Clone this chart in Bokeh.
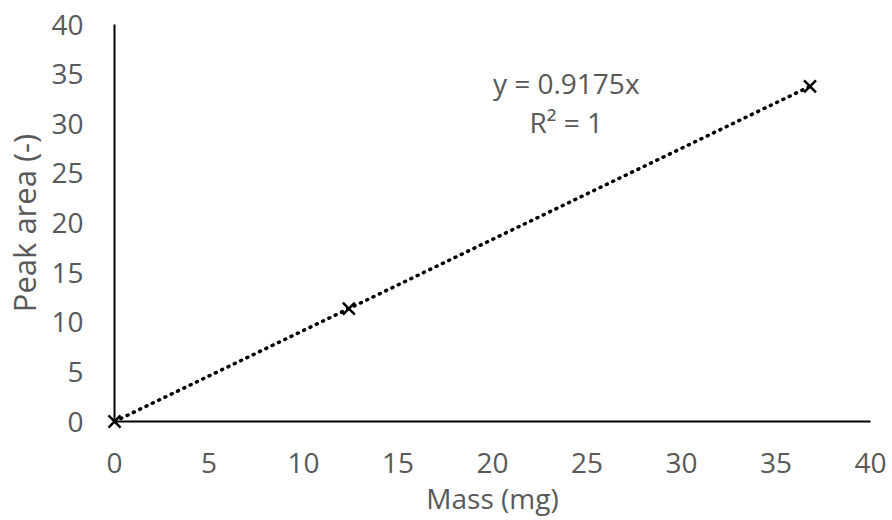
from bokeh.plotting import figure
from bokeh.models import Range1d, FixedTicker, Title
from bokeh.core.properties import value
from bokeh.embed import file_html
from bokeh.resources import INLINE

mass = [0.0, 12.4, 36.8]
peak_area = [0.0, 11.38, 33.76]
slope = 0.9175
ticks = [0, 5, 10, 15, 20, 25, 30, 35, 40]
eq_lines = ["y = 0.9175x", "R² = 1"]
eq_x = [23.9, 23.9]
eq_y = [34.1, 30.2]
x_title = "Mass (mg)"
y_title = "Peak area (-)"

FONT = "Open Sans"
GRAY = "#595959"

p = figure(width=892, height=520, output_backend="svg", toolbar_location=None,
           x_range=Range1d(0, 40), y_range=Range1d(0, 40),
           min_border_left=114, min_border_right=22, min_border_top=24, min_border_bottom=99)
p.outline_line_color = None
p.xgrid.visible = False
p.ygrid.visible = False

for ax in (p.xaxis[0], p.yaxis[0]):
    ax.ticker = FixedTicker(ticks=ticks)
    ax.axis_line_color = "black"
    ax.axis_line_width = 2
    ax.major_tick_line_color = None
    ax.minor_tick_line_color = None
    ax.major_tick_out = 0
    ax.major_tick_in = 0
    ax.minor_tick_out = 0
    ax.minor_tick_in = 0
    ax.major_label_text_font = FONT
    ax.major_label_text_font_size = "28px"
    ax.major_label_text_color = GRAY
    ax.axis_label_text_font = FONT
    ax.axis_label_text_color = GRAY
    ax.axis_label_text_font_style = "normal"

p.xaxis.axis_label = x_title
p.xaxis.axis_label_text_font_size = "28px"
p.xaxis.major_label_standoff = 31
p.yaxis.major_label_standoff = 31
p.xaxis.axis_label_standoff = 3

ytitle = Title(text=y_title, align="center", vertical_align="top", text_font=FONT,
               text_font_size="31px", text_color=GRAY, text_font_style="normal",
               standoff=4, offset=0)
p.add_layout(ytitle, "left")

fit_x = [0.0, max(mass)]
fit_y = [slope * v for v in fit_x]
p.line(fit_x, fit_y, line_color="black", line_width=3.5, line_dash="1 6", line_cap="round")

p.scatter(mass, peak_area, marker="x", size=17, line_color="black", line_width=2.5, level="overlay")

p.text(eq_x, eq_y, text=eq_lines, text_font=value(FONT), text_font_size="28px",
       text_color=GRAY, text_align="center", text_baseline="middle")

open("out.html", "w").write(file_html(p, INLINE))
